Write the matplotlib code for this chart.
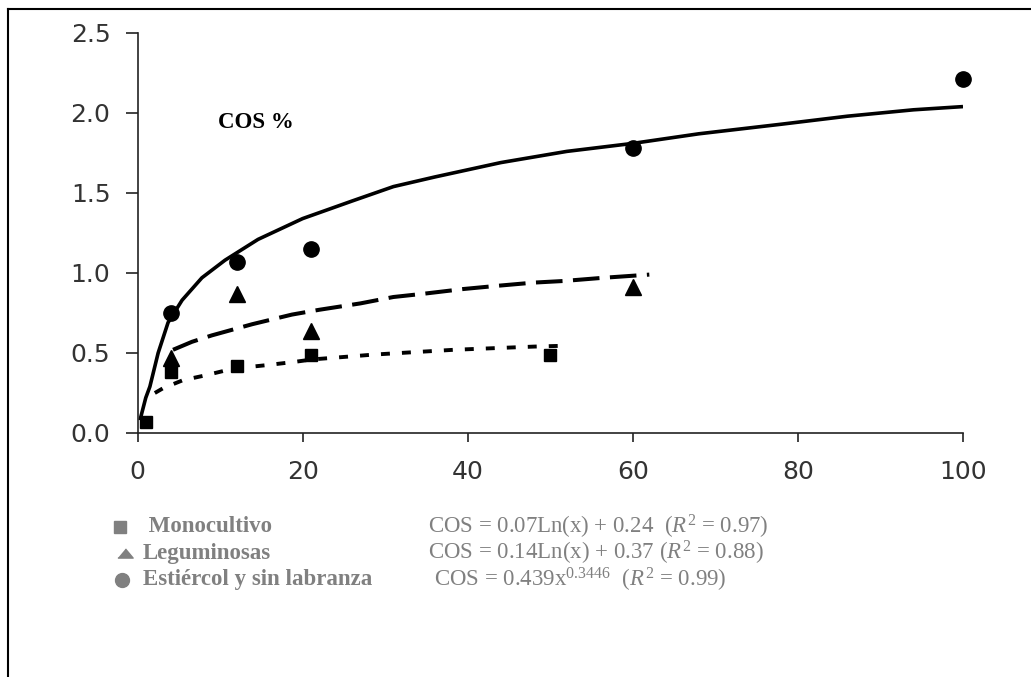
import matplotlib
matplotlib.use("Agg")
import matplotlib.pyplot as plt
from matplotlib.lines import Line2D

# measured points (COS %)
mono_x = [1, 4, 12, 21, 50]
mono_y = [0.07, 0.38, 0.42, 0.49, 0.49]
leg_x = [4, 12, 21, 60]
leg_y = [0.47, 0.87, 0.64, 0.91]
est_x = [4, 12, 21, 60, 100]
est_y = [0.75, 1.07, 1.15, 1.78, 2.21]

# fitted curves
mono_fit_x = [2.1, 3.1, 5.5, 8.2, 10.6, 13, 15.8, 19.1, 21.2, 23.7, 28.6, 33.4, 38.3, 43.1, 48, 51.5]
mono_fit_y = [0.25, 0.28, 0.33, 0.36, 0.39, 0.41, 0.425, 0.445, 0.46, 0.47, 0.49, 0.505, 0.52, 0.53, 0.54, 0.545]
leg_fit_x = [4.3, 6.6, 9, 11.8, 13.9, 16.3, 18.7, 22, 27, 31, 34.6, 39.5, 43.6, 48, 51.6, 56.4, 62]
leg_fit_y = [0.52, 0.57, 0.61, 0.65, 0.68, 0.71, 0.74, 0.77, 0.81, 0.85, 0.87, 0.90, 0.92, 0.94, 0.95, 0.97, 0.99]
est_fit_x = [0.3, 1.0, 1.5, 2.5, 3.7, 5.4, 7.8, 10.6, 14.6, 20, 26, 31, 36, 44, 52, 60, 68, 78, 86, 94, 100]
est_fit_y = [0.08, 0.22, 0.29, 0.50, 0.69, 0.83, 0.97, 1.08, 1.21, 1.34, 1.45, 1.54, 1.60, 1.69, 1.76, 1.81, 1.87, 1.93, 1.98, 2.02, 2.04]

x_ticks = [0, 20, 40, 60, 80, 100]
y_ticks = [0.0, 0.5, 1.0, 1.5, 2.0, 2.5]

names = [" Monocultivo", "Leguminosas", "Estiércol y sin labranza"]
equations = [r"COS = 0.07Ln(x) + 0.24  ($\mathit{R}^2$ = 0.97)",
             r"COS = 0.14Ln(x) + 0.37 ($\mathit{R}^2$ = 0.88)",
             r"COS = 0.439x$^{\mathrm{0.3446}}$  ($\mathit{R}^2$ = 0.99)"]

plt.rcParams["mathtext.fontset"] = "custom"
plt.rcParams["mathtext.rm"] = "Liberation Serif"
plt.rcParams["mathtext.it"] = "Liberation Serif:italic"

W, H = 1031, 677
fig = plt.figure(figsize=(W / 100, H / 100), dpi=100)
ax = fig.add_axes([137.5 / W, 1 - 433 / H, 825.5 / W, 400 / H])

ax.plot(est_fit_x, est_fit_y, color="black", lw=2.6, solid_capstyle="butt", solid_joinstyle="round")
ax.plot(leg_fit_x, leg_fit_y, color="black", lw=2.9, dashes=(6.6, 2.6))
ax.plot(mono_fit_x, mono_fit_y, color="black", lw=2.8, dashes=(2.3, 3.1))

ax.plot(mono_x, mono_y, "s", color="black", ms=9, clip_on=False)
ax.plot(leg_x, leg_y, "^", color="black", ms=12, clip_on=False)
ax.plot(est_x, est_y, "o", color="black", ms=11, clip_on=False)

ax.set_xlim(0, 100)
ax.set_ylim(0, 2.5)
ax.set_xticks(x_ticks)
ax.set_yticks(y_ticks)
ax.set_xticklabels([str(v) for v in x_ticks])
ax.set_yticklabels([f"{v:.1f}" for v in y_ticks])
for s in ["top", "right"]:
    ax.spines[s].set_visible(False)
for s in ["left", "bottom"]:
    ax.spines[s].set_linewidth(1.2)
    ax.spines[s].set_color("#222222")
ax.tick_params(axis="y", length=8.5, width=1.2, pad=11, labelsize=18, colors="#222222")
ax.tick_params(axis="x", length=6.5, width=1.2, pad=13, labelsize=18, colors="#222222")
for lab in ax.get_xticklabels() + ax.get_yticklabels():
    lab.set_fontfamily("DejaVu Sans")
    lab.set_color("#333333")

fig.text(256 / W, 1 - 122 / H, "COS %", family="Liberation Serif", weight="bold",
         fontsize=16.5, ha="center", va="center")

# legend block below the axes
gray = "#808080"
rows_y = [527, 553, 580]
marks = ["s", [(-1, -0.6), (1, -0.6), (0, 0.6)], "o"]
mark_sizes = [8, 11, 10]
mark_x = [120, 125, 122]
name_x = [143, 143, 143]
eq_x = [428, 428, 434]
for i in range(3):
    fy = 1 - rows_y[i] / H
    fig.add_artist(Line2D([mark_x[i] / W], [fy], marker=marks[i], ms=mark_sizes[i],
                          color=gray, ls="none", transform=fig.transFigure))
    fig.text(name_x[i] / W, fy, names[i], family="Liberation Serif", weight="bold",
             fontsize=16.5, color=gray, ha="left", va="center")
    fig.text(eq_x[i] / W, fy, equations[i], family="Liberation Serif",
             fontsize=16.5, color=gray, ha="left", va="center")

# outer frame (top and left edges only)
fig.add_artist(Line2D([8 / W, 1], [1 - 9 / H, 1 - 9 / H], color="black", lw=1.5,
                      transform=fig.transFigure))
fig.add_artist(Line2D([8 / W, 8 / W], [0, 1 - 9 / H], color="black", lw=1.5,
                      transform=fig.transFigure))

fig.savefig("out.png", dpi=100)
